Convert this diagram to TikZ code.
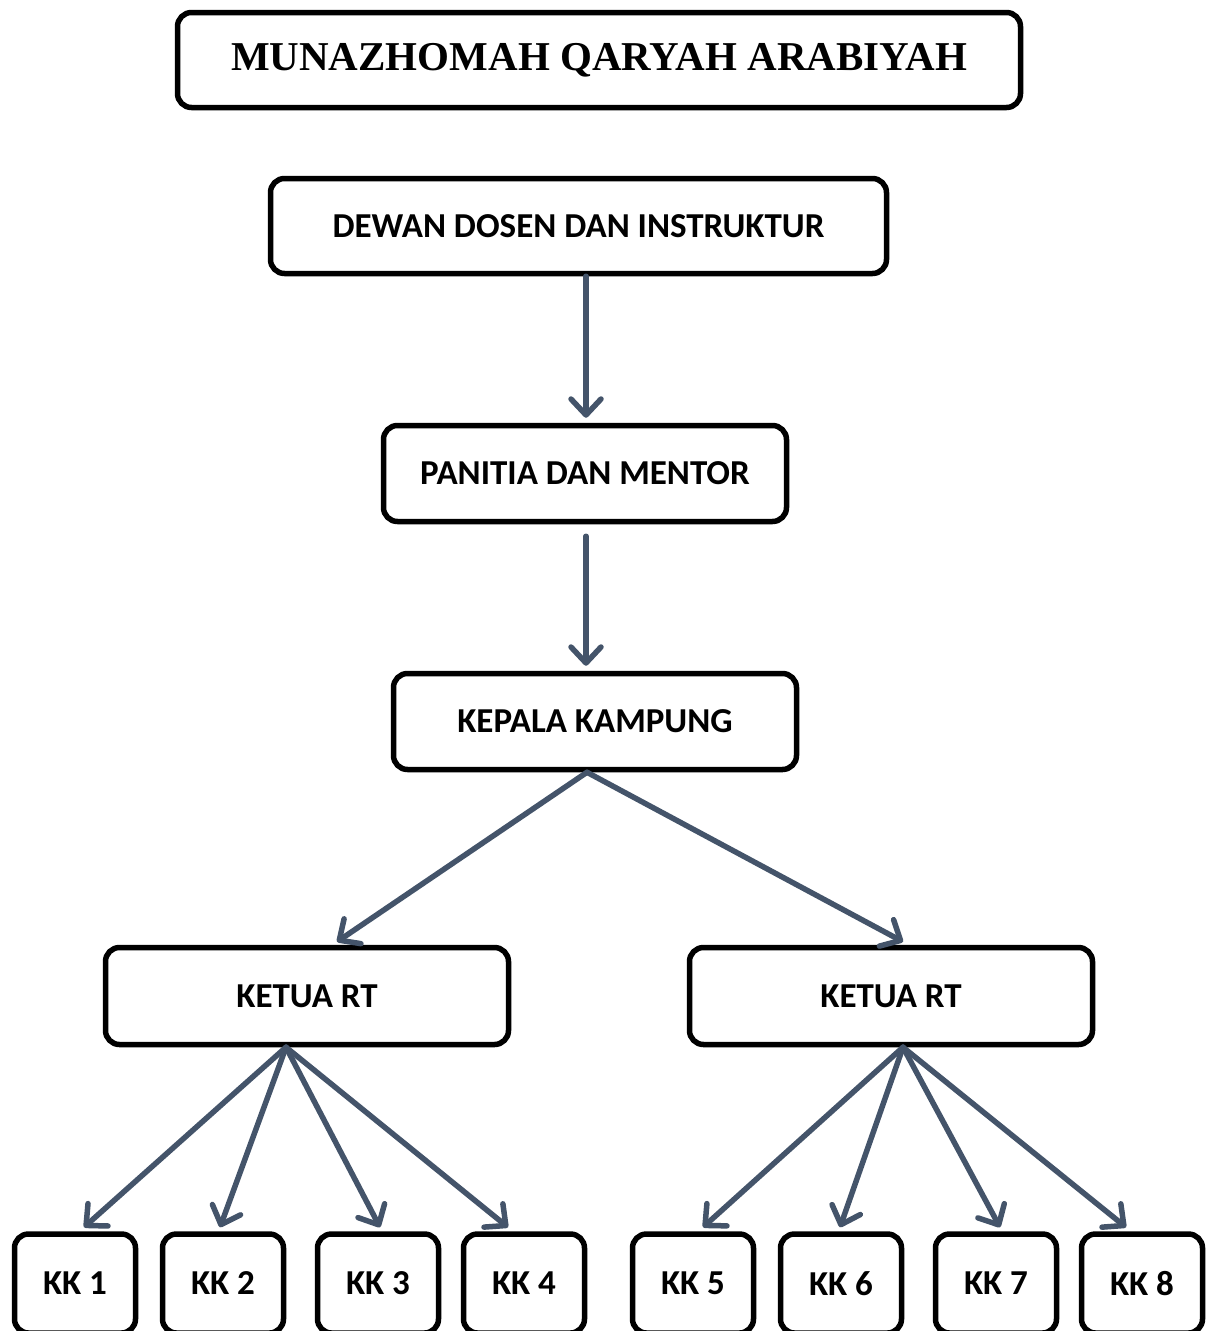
\documentclass[tikz,border=0pt]{standalone}
\usepackage{fontspec}
\setmainfont{Carlito}
\newfontfamily\titlefont{Liberation Serif}
\usepackage{xcolor}
\usetikzlibrary{arrows.meta, calc}

\definecolor{slate}{HTML}{44546A}

\begin{document}
\begin{tikzpicture}[
  x=1pt, y=-1pt,
  box/.style={draw, line width=5.5pt, rounded corners=14pt, inner sep=0pt, font=\bfseries\fontsize{35}{38}\selectfont},
  kkbox/.style={box, minimum width=121pt, minimum height=99pt},
  edge/.style={slate, line width=5.5pt, line cap=round, -{Straight Barb[length=16pt, width=30pt, line width=5.5pt, round]}}
]
\useasboundingbox (0,0) rectangle (1210,1331);

% title and upper chain
\node[box, minimum width=843pt, minimum height=95pt, font=\titlefont\bfseries\fontsize{41}{44}\selectfont] (title) at (599,60) {MUNAZHOMAH QARYAH ARABIYAH};
\node[box, minimum width=616pt, minimum height=95pt] (dewan) at (578.5,226) {DEWAN DOSEN DAN INSTRUKTUR};
\node[box, minimum width=403pt, minimum height=96pt] (panitia) at (585,473.5) {PANITIA DAN MENTOR};
\node[box, minimum width=403pt, minimum height=96pt] (kepala) at (595,721.5) {KEPALA KAMPUNG};

% ketua RT
\node[box, minimum width=403pt, minimum height=97pt] (rtA) at (307,996) {KETUA RT};
\node[box, minimum width=403pt, minimum height=97pt] (rtB) at (891,996) {KETUA RT};

% kepala keluarga
\node[kkbox] (kk1) at (75,1283.5) {KK 1};
\node[kkbox] (kk2) at (223,1283.5) {KK 2};
\node[kkbox] (kk3) at (378,1283.5) {KK 3};
\node[kkbox] (kk4) at (524,1283.5) {KK 4};
\node[kkbox] (kk5) at (693,1283.5) {KK 5};
\node[kkbox] (kk6) at (841,1283.5) {KK 6};
\node[kkbox] (kk7) at (996,1283.5) {KK 7};
\node[kkbox] (kk8) at (1142,1283.5) {KK 8};

% arrows
\draw[edge] ($(dewan.south)+(7.5,0)$) -- ($(panitia.north)+(1,-5)$);
\draw[edge] ($(panitia.south)+(1,12)$) -- ($(kepala.north)+(-9,-5)$);
\draw[edge] ($(kepala.south)+(-8,0)$) -- ($(rtA.north)+(30,-3)$);
\draw[edge] ($(kepala.south)+(-8,0)$) -- ($(rtB.north)+(12,-3)$);
\foreach \k/\dx in {kk1/9, kk2/-3, kk3/2, kk4/-16} {
  \draw[edge] ($(rtA.south)+(-21,0)$) -- ($(\k.north)+(\dx,-4)$);
}
\foreach \k/\dx in {kk5/10, kk6/-1, kk7/4, kk8/-16} {
  \draw[edge] ($(rtB.south)+(12,0)$) -- ($(\k.north)+(\dx,-4)$);
}
\end{tikzpicture}
\end{document}
